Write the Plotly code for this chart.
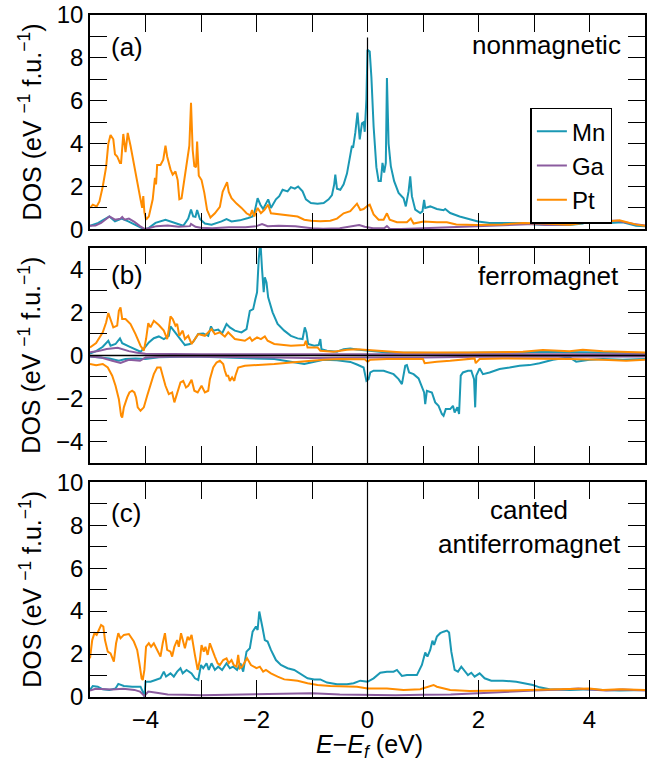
import plotly.graph_objects as go

# ---------------- data: (E - Ef [eV], DOS) ----------------
# Panel (a) nonmagnetic
A_MN = [(-5.0,0.17),(-4.85,0.3),(-4.75,0.45),(-4.65,0.6),(-4.55,0.37),(-4.43,0.5),(-4.31,0.37),(-4.13,0.15),(-4.02,0.0),(-3.95,0.05),(-3.82,0.3),(-3.64,0.45),(-3.49,0.33),(-3.32,0.17),(-3.23,0.5),(-3.18,0.92),(-3.14,0.6),(-3.1,0.58),(-3.07,0.9),(-3.02,0.48),(-2.93,0.27),(-2.81,0.22),(-2.63,0.37),(-2.54,0.48),(-2.45,0.37),(-2.3,0.42),(-2.15,0.53),(-2.07,0.6),(-2.04,0.75),(-1.98,1.45),(-1.93,1.15),(-1.88,0.95),(-1.83,1.2),(-1.79,1.4),(-1.74,1.0),(-1.65,1.4),(-1.59,1.55),(-1.53,1.85),(-1.44,1.77),(-1.38,1.97),(-1.31,1.9),(-1.25,2.0),(-1.17,1.77),(-1.11,1.4),(-1.02,1.23),(-0.9,1.2),(-0.79,1.23),(-0.7,1.4),(-0.64,1.6),(-0.6,2.1),(-0.58,2.55),(-0.55,1.9),(-0.49,1.85),(-0.43,2.1),(-0.37,2.6),(-0.31,3.4),(-0.28,3.9),(-0.26,3.8),(-0.22,4.5),(-0.18,5.45),(-0.14,4.2),(-0.1,4.95),(-0.07,5.0),(-0.05,4.55),(-0.02,6.05),(0.0,8.38),(0.04,8.3),(0.07,7.1),(0.11,4.8),(0.16,2.9),(0.2,2.25),(0.24,2.25),(0.27,3.1),(0.3,2.65),(0.33,3.1),(0.35,7.06),(0.38,4.0),(0.42,2.95),(0.48,2.25),(0.56,1.7),(0.65,1.45),(0.69,1.07),(0.74,1.77),(0.77,2.47),(0.8,1.55),(0.86,0.92),(0.95,0.76),(0.99,0.84),(1.02,1.38),(1.04,1.0),(1.13,1.07),(1.25,0.95),(1.37,0.89),(1.4,0.95),(1.49,0.76),(1.66,0.6),(1.84,0.48),(1.99,0.37),(2.2,0.3),(2.44,0.3),(2.56,0.33),(2.8,0.3),(3.04,0.23),(3.34,0.2),(3.64,0.2),(3.88,0.27),(4.0,0.45),(4.12,0.37),(4.36,0.3),(4.6,0.33),(4.84,0.17),(5.0,0.14)]
A_GA = [(-5.0,0.17),(-4.9,0.18),(-4.8,0.3),(-4.65,0.6),(-4.55,0.45),(-4.45,0.5),(-4.42,0.58),(-4.38,0.45),(-4.3,0.5),(-4.2,0.35),(-4.1,0.15),(-4.02,0.02),(-3.95,0.05),(-3.8,0.15),(-3.6,0.18),(-3.4,0.12),(-3.2,0.15),(-3.18,0.25),(-3.1,0.12),(-3.0,0.08),(-2.8,0.05),(-2.5,0.1),(-2.2,0.1),(-2.0,0.15),(-1.9,0.25),(-1.8,0.15),(-1.6,0.17),(-1.3,0.15),(-1.0,0.05),(-0.8,0.03),(-0.5,0.05),(-0.3,0.15),(-0.15,0.2),(-0.05,0.12),(0.0,0.1),(0.1,0.05),(0.3,0.05),(0.35,0.15),(0.4,0.03),(0.6,0.02),(1.0,0.05),(1.5,0.1),(2.0,0.12),(2.5,0.2),(3.0,0.25),(3.2,0.2),(3.6,0.22),(3.9,0.35),(4.0,0.5),(4.1,0.4),(4.5,0.4),(4.8,0.25),(5.0,0.18)]
A_PT = [(-5.0,1.0),(-4.95,1.15),(-4.88,1.07),(-4.83,1.3),(-4.77,2.0),(-4.71,2.9),(-4.67,4.0),(-4.63,4.4),(-4.58,4.2),(-4.55,3.5),(-4.51,3.4),(-4.46,3.1),(-4.44,3.1),(-4.42,4.0),(-4.4,4.45),(-4.36,3.6),(-4.32,4.5),(-4.27,3.9),(-4.21,3.0),(-4.15,2.3),(-4.09,1.4),(-4.06,1.0),(-4.04,1.55),(-4.02,0.8),(-3.99,0.45),(-3.94,0.6),(-3.87,1.4),(-3.83,2.4),(-3.81,2.1),(-3.79,3.0),(-3.73,3.0),(-3.68,3.25),(-3.64,3.9),(-3.61,3.4),(-3.55,2.8),(-3.51,2.55),(-3.46,2.7),(-3.42,2.3),(-3.39,1.4),(-3.35,1.45),(-3.3,2.3),(-3.26,3.1),(-3.21,3.9),(-3.18,5.9),(-3.15,3.7),(-3.12,2.95),(-3.09,2.9),(-3.07,4.1),(-3.04,2.5),(-2.99,2.3),(-2.94,1.7),(-2.89,0.9),(-2.83,0.55),(-2.75,0.75),(-2.66,1.05),(-2.61,1.75),(-2.57,2.0),(-2.53,2.2),(-2.5,1.75),(-2.45,1.45),(-2.36,1.2),(-2.27,1.0),(-2.18,0.75),(-2.11,0.65),(-2.08,0.9),(-2.04,0.6),(-1.98,1.0),(-1.92,0.75),(-1.86,0.9),(-1.79,1.15),(-1.74,0.75),(-1.62,0.72),(-1.5,0.68),(-1.38,0.65),(-1.26,0.6),(-1.14,0.45),(-1.02,0.4),(-0.85,0.38),(-0.67,0.4),(-0.55,0.5),(-0.43,0.75),(-0.31,0.85),(-0.19,1.2),(-0.13,0.9),(-0.07,0.95),(0.0,1.1),(0.04,1.15),(0.11,0.7),(0.2,0.45),(0.29,0.45),(0.35,0.75),(0.4,0.45),(0.53,0.33),(0.71,0.33),(0.78,0.5),(0.83,0.27),(1.01,0.37),(1.25,0.33),(1.43,0.33),(1.6,0.23),(1.96,0.2),(2.44,0.23),(2.8,0.3),(3.16,0.27),(3.64,0.22),(3.88,0.3),(4.03,0.42),(4.18,0.33),(4.54,0.42),(4.84,0.22),(5.0,0.17)]

# Panel (b) ferromagnet: spin up (positive) and spin down (negative)
B_MN_UP = [(-5.0,0.08),(-4.89,0.2),(-4.77,0.4),(-4.67,0.68),(-4.63,0.45),(-4.54,0.53),(-4.46,0.79),(-4.42,0.57),(-4.3,0.42),(-4.18,0.29),(-4.09,0.17),(-4.01,0.37),(-3.94,0.6),(-3.85,0.8),(-3.76,0.88),(-3.67,0.76),(-3.58,0.91),(-3.55,1.35),(-3.49,1.15),(-3.37,0.76),(-3.29,0.48),(-3.2,0.53),(-3.14,0.63),(-3.05,1.0),(-2.96,1.02),(-2.87,0.91),(-2.82,1.35),(-2.78,1.15),(-2.69,1.2),(-2.62,1.02),(-2.54,1.46),(-2.48,1.3),(-2.39,1.15),(-2.27,1.07),(-2.18,1.22),(-2.12,2.07),(-2.06,2.15),(-2.02,2.62),(-1.99,2.93),(-1.96,4.47),(-1.93,5.3),(-1.9,4.0),(-1.87,2.93),(-1.85,3.62),(-1.82,3.39),(-1.79,2.7),(-1.71,2.0),(-1.62,1.46),(-1.5,1.15),(-1.38,0.91),(-1.26,0.79),(-1.17,0.76),(-1.13,1.3),(-1.1,1.07),(-1.07,0.53),(-0.96,0.45),(-0.88,0.48),(-0.85,0.76),(-0.83,0.29),(-0.73,0.22),(-0.55,0.17),(-0.43,0.29),(-0.31,0.32),(-0.19,0.28),(0.0,0.22),(0.35,0.14),(1.25,0.11),(2.44,0.11),(2.8,0.14),(3.04,0.17),(3.64,0.17),(4.24,0.14),(5.0,0.11)]
B_MN_DN = [(-5.0,-0.05),(-4.65,-0.14),(-4.48,-0.25),(-4.36,-0.17),(-4.18,-0.14),(-4.0,-0.17),(-3.76,-0.09),(-3.17,-0.05),(-2.69,-0.09),(-2.21,-0.14),(-1.68,-0.17),(-1.14,-0.4),(-1.02,-0.33),(-0.79,-0.2),(-0.55,-0.22),(-0.31,-0.3),(-0.19,-0.42),(-0.07,-0.56),(-0.02,-1.18),(0.02,-1.1),(0.05,-0.79),(0.11,-0.71),(0.29,-0.71),(0.47,-0.87),(0.56,-1.1),(0.62,-1.33),(0.68,-0.48),(0.71,-0.45),(0.75,-0.79),(0.83,-0.87),(0.92,-1.07),(0.99,-1.49),(1.02,-1.72),(1.04,-2.26),(1.07,-1.64),(1.16,-1.72),(1.22,-2.18),(1.28,-2.34),(1.34,-2.72),(1.37,-2.8),(1.41,-2.49),(1.49,-2.49),(1.54,-2.34),(1.57,-2.65),(1.62,-2.41),(1.65,-2.72),(1.68,-0.94),(1.72,-0.79),(1.81,-0.71),(1.87,-0.71),(1.92,-1.1),(1.94,-2.41),(1.96,-0.94),(2.02,-0.6),(2.08,-0.87),(2.2,-0.79),(2.38,-0.63),(2.56,-0.56),(2.74,-0.48),(2.92,-0.45),(3.1,-0.36),(3.34,-0.2),(3.64,-0.09),(3.76,-0.29),(4.0,-0.2),(4.24,-0.17),(4.6,-0.2),(5.0,-0.17)]
B_GA_UP = [(-5.0,0.15),(-4.85,0.2),(-4.7,0.3),(-4.5,0.35),(-4.3,0.2),(-4.15,0.12),(-4.0,0.08),(-3.5,0.06),(-3.0,0.05),(-2.0,0.06),(-1.0,0.05),(0.0,0.06),(1.0,0.04),(2.0,0.05),(3.0,0.06),(4.0,0.06),(5.0,0.05)]
B_GA_DN = [(-5.0,-0.05),(-4.8,-0.1),(-4.6,-0.25),(-4.45,-0.35),(-4.3,-0.2),(-4.1,-0.25),(-4.0,-0.1),(-3.5,-0.05),(-2.0,-0.08),(-1.0,-0.12),(0.0,-0.1),(1.0,-0.1),(2.0,-0.06),(3.0,-0.05),(4.0,-0.05),(5.0,-0.05)]
B_PT_UP = [(-5.0,0.37),(-4.89,0.57),(-4.77,1.07),(-4.71,1.53),(-4.67,1.97),(-4.63,1.69),(-4.58,1.3),(-4.51,1.38),(-4.48,2.07),(-4.45,2.23),(-4.42,1.69),(-4.36,1.69),(-4.27,1.46),(-4.18,0.99),(-4.09,0.45),(-4.03,0.22),(-3.99,0.76),(-3.95,1.5),(-3.91,1.3),(-3.85,1.61),(-3.76,1.41),(-3.67,1.15),(-3.61,0.76),(-3.58,1.22),(-3.55,1.81),(-3.51,1.69),(-3.46,1.38),(-3.43,1.46),(-3.39,0.91),(-3.33,1.15),(-3.29,0.76),(-3.23,0.91),(-3.17,0.53),(-3.11,0.76),(-3.05,0.99),(-2.93,0.91),(-2.81,1.22),(-2.75,0.99),(-2.66,1.07),(-2.57,0.87),(-2.51,1.07),(-2.39,0.76),(-2.21,0.68),(-2.12,0.84),(-2.08,0.68),(-1.99,0.84),(-1.92,0.76),(-1.85,0.88),(-1.8,0.68),(-1.68,0.53),(-1.38,0.45),(-1.14,0.48),(-1.11,0.68),(-1.08,0.37),(-0.9,0.37),(-0.85,0.22),(-0.61,0.17),(-0.37,0.26),(-0.19,0.29),(0.0,0.25),(0.65,0.14),(1.84,0.14),(2.8,0.17),(3.16,0.25),(3.64,0.19),(3.88,0.26),(4.24,0.19),(5.0,0.14)]
B_PT_DN = [(-5.0,-0.4),(-4.89,-0.45),(-4.77,-0.4),(-4.68,-0.56),(-4.6,-0.94),(-4.54,-1.41),(-4.48,-2.03),(-4.44,-2.8),(-4.42,-2.88),(-4.39,-2.41),(-4.33,-1.95),(-4.29,-1.72),(-4.24,-1.64),(-4.2,-1.72),(-4.17,-1.95),(-4.14,-2.41),(-4.09,-2.57),(-4.03,-2.41),(-3.97,-1.87),(-3.91,-1.41),(-3.85,-0.87),(-3.79,-0.56),(-3.73,-0.56),(-3.69,-0.94),(-3.64,-1.41),(-3.58,-1.8),(-3.52,-1.72),(-3.48,-2.18),(-3.43,-1.72),(-3.37,-1.25),(-3.32,-1.18),(-3.27,-1.49),(-3.23,-1.41),(-3.17,-1.13),(-3.12,-1.64),(-3.06,-1.72),(-2.99,-1.41),(-2.93,-1.72),(-2.87,-1.64),(-2.84,-1.1),(-2.78,-0.56),(-2.72,-0.33),(-2.66,-0.25),(-2.6,-0.4),(-2.57,-0.71),(-2.54,-0.94),(-2.51,-0.94),(-2.48,-1.18),(-2.44,-1.02),(-2.4,-1.18),(-2.38,-0.94),(-2.33,-0.56),(-2.21,-0.48),(-1.98,-0.45),(-1.68,-0.4),(-1.38,-0.33),(-1.08,-0.25),(-0.79,-0.2),(-0.49,-0.17),(-0.19,-0.2),(-0.05,-0.18),(0.0,-0.29),(0.05,-0.2),(0.35,-0.17),(1.0,-0.17),(1.03,-0.36),(1.25,-0.29),(1.49,-0.25),(1.93,-0.14),(1.95,-0.36),(2.02,-0.17),(2.44,-0.14),(3.04,-0.14),(3.64,-0.17),(4.24,-0.2),(4.66,-0.25),(5.0,-0.2)]

# Panel (c) canted antiferromagnet
C_MN = [(-5.0,0.33),(-4.95,0.51),(-4.86,0.48),(-4.77,0.36),(-4.65,0.33),(-4.54,0.4),(-4.49,0.61),(-4.39,0.51),(-4.24,0.48),(-4.09,0.48),(-4.05,0.25),(-4.02,0.02),(-4.0,0.71),(-3.91,0.71),(-3.82,0.79),(-3.73,0.87),(-3.67,1.18),(-3.63,0.95),(-3.55,1.1),(-3.49,0.95),(-3.43,1.18),(-3.37,1.34),(-3.33,1.1),(-3.26,1.26),(-3.17,1.1),(-3.11,0.87),(-3.05,0.79),(-3.0,1.49),(-2.96,1.34),(-2.9,1.57),(-2.86,1.26),(-2.81,1.57),(-2.75,1.26),(-2.69,1.41),(-2.62,1.26),(-2.54,1.57),(-2.48,1.34),(-2.42,1.41),(-2.35,1.26),(-2.29,1.57),(-2.24,1.18),(-2.18,2.11),(-2.12,2.27),(-2.07,3.04),(-2.01,3.28),(-1.98,3.12),(-1.95,3.98),(-1.92,3.66),(-1.89,3.2),(-1.85,2.65),(-1.8,2.58),(-1.74,2.19),(-1.65,1.72),(-1.56,1.49),(-1.44,1.34),(-1.32,1.26),(-1.2,1.07),(-1.08,0.87),(-0.96,0.82),(-0.85,0.82),(-0.73,0.67),(-0.55,0.59),(-0.37,0.59),(-0.25,0.64),(-0.13,0.76),(0.0,0.71),(0.11,0.87),(0.23,1.13),(0.35,1.18),(0.47,1.18),(0.53,1.26),(0.62,0.98),(0.71,1.02),(0.89,1.02),(0.98,1.49),(1.04,2.07),(1.08,1.88),(1.13,2.19),(1.17,2.62),(1.2,2.42),(1.25,2.81),(1.31,2.97),(1.37,3.04),(1.43,3.09),(1.47,3.0),(1.51,2.11),(1.57,1.26),(1.63,1.18),(1.69,1.41),(1.75,1.23),(1.81,1.02),(1.87,1.13),(1.93,0.95),(2.02,1.1),(2.11,0.87),(2.23,0.76),(2.44,0.76),(2.68,0.71),(2.86,0.61),(2.98,0.56),(3.1,0.45),(3.28,0.36),(3.64,0.33),(4.0,0.36),(4.24,0.33),(4.54,0.3),(5.0,0.33)]
C_GA = [(-5.0,0.3),(-4.9,0.38),(-4.6,0.35),(-4.4,0.38),(-4.2,0.33),(-4.1,0.25),(-4.02,0.05),(-3.95,0.25),(-3.8,0.2),(-3.6,0.12),(-3.3,0.1),(-3.0,0.08),(-2.5,0.1),(-2.0,0.12),(-1.5,0.15),(-1.0,0.18),(-0.5,0.12),(0.0,0.1),(0.5,0.08),(1.0,0.1),(1.5,0.12),(2.0,0.18),(2.5,0.25),(3.0,0.3),(3.5,0.35),(3.8,0.4),(4.0,0.35),(4.3,0.3),(4.6,0.35),(5.0,0.3)]
C_PT = [(-5.0,1.8),(-4.96,2.65),(-4.92,2.97),(-4.88,2.89),(-4.84,3.12),(-4.8,3.35),(-4.76,3.28),(-4.73,2.65),(-4.68,2.11),(-4.63,2.03),(-4.57,1.65),(-4.53,2.5),(-4.49,2.97),(-4.45,2.73),(-4.39,2.89),(-4.3,2.93),(-4.21,2.58),(-4.15,2.19),(-4.11,1.57),(-4.07,0.87),(-4.05,0.79),(-4.02,1.26),(-3.99,2.34),(-3.94,2.5),(-3.9,2.34),(-3.85,2.5),(-3.79,2.19),(-3.73,1.88),(-3.69,2.5),(-3.65,2.97),(-3.61,2.19),(-3.55,2.11),(-3.52,1.88),(-3.48,2.34),(-3.43,2.65),(-3.4,2.34),(-3.36,2.97),(-3.33,2.65),(-3.29,2.27),(-3.24,2.81),(-3.21,2.65),(-3.17,2.89),(-3.14,2.5),(-3.11,1.96),(-3.06,1.26),(-3.02,1.72),(-2.99,2.42),(-2.95,2.11),(-2.92,2.34),(-2.88,1.96),(-2.84,2.5),(-2.8,2.19),(-2.75,1.88),(-2.7,1.57),(-2.66,1.49),(-2.6,1.72),(-2.54,1.8),(-2.5,1.57),(-2.45,1.72),(-2.41,1.49),(-2.36,1.41),(-2.33,1.96),(-2.3,1.34),(-2.26,1.41),(-2.21,1.65),(-2.17,1.8),(-2.1,1.49),(-2.0,1.34),(-1.94,1.41),(-1.88,1.18),(-1.83,1.26),(-1.74,1.1),(-1.62,0.95),(-1.5,0.82),(-1.38,0.79),(-1.26,0.76),(-1.08,0.64),(-0.9,0.56),(-0.67,0.51),(-0.43,0.51),(-0.19,0.48),(0.0,0.4),(0.35,0.4),(0.65,0.33),(0.95,0.36),(1.19,0.56),(1.25,0.48),(1.49,0.33),(1.84,0.28),(2.44,0.3),(3.04,0.33),(3.64,0.36),(3.76,0.4),(4.0,0.4),(4.24,0.33),(4.54,0.36),(5.0,0.33)]

SPECIES = ["Mn", "Ga", "Pt"]
X_TICKS = [-4, -3, -2, -1, 0, 1, 2, 3, 4]
X_LABELS = ["\u22124", "", "\u22122", "", "0", "", "2", "", "4"]
Y_TICKS_AC = list(range(0, 11))
Y_LABELS_AC = ["0", "", "2", "", "4", "", "6", "", "8", "", "10"]
Y_TICKS_B = list(range(-5, 6))
Y_LABELS_B = ["", "\u22124", "", "\u22122", "", "0", "", "2", "", "4", ""]

# ---------------- style ----------------
COLORS = {"Mn": "#1a98b4", "Ga": "#8b5c9f", "Pt": "#ff8c00"}
FONT = "Liberation Sans, Arial, Helvetica, sans-serif"
LW = 2

fig = go.Figure()

def add(curve, name, xa, ya, showlegend=False):
    fig.add_trace(go.Scatter(
        x=[p[0] for p in curve], y=[p[1] for p in curve], mode="lines",
        line=dict(color=COLORS[name], width=LW), name=name, legendgroup=name,
        showlegend=showlegend, xaxis=xa, yaxis=ya, hoverinfo="skip"))

for name, curve in zip(SPECIES, [A_MN, A_GA, A_PT]):
    add(curve, name, "x", "y", True)
for name, up, dn in zip(SPECIES, [B_MN_UP, B_GA_UP, B_PT_UP], [B_MN_DN, B_GA_DN, B_PT_DN]):
    add(up, name, "x2", "y2")
    add(dn, name, "x2", "y2")
for name, curve in zip(SPECIES, [C_MN, C_GA, C_PT]):
    add(curve, name, "x3", "y3")

common = dict(showline=True, linecolor="black", linewidth=1.5, mirror="ticks",
              ticks="inside", ticklen=17, tickwidth=1.3, tickcolor="black",
              showgrid=False, zeroline=False,
              tickfont=dict(family=FONT, size=24, color="black"))

xcommon = dict(common, range=[-5, 5], tickmode="array", tickvals=X_TICKS, ticktext=X_LABELS)
fig.update_layout(
    xaxis=dict(xcommon, anchor="y", showticklabels=False),
    xaxis2=dict(xcommon, anchor="y2", matches="x", showticklabels=False),
    xaxis3=dict(xcommon, anchor="y3", matches="x"),
    yaxis=dict(common, domain=[0.6857, 1.0], range=[0, 10], tickmode="array",
               tickvals=Y_TICKS_AC, ticktext=Y_LABELS_AC, anchor="x"),
    yaxis2=dict(common, domain=[0.3429, 0.6588], range=[-5, 5], tickmode="array",
                tickvals=Y_TICKS_B, ticktext=Y_LABELS_B, anchor="x2"),
    yaxis3=dict(common, domain=[0.0, 0.3150], range=[0, 10], tickmode="array",
                tickvals=Y_TICKS_AC, ticktext=Y_LABELS_AC, anchor="x3"),
)

# reference lines
fig.add_shape(type="line", xref="x", yref="y", x0=0, x1=0, y0=0, y1=8.95,
              line=dict(color="black", width=1.2))
fig.add_shape(type="line", xref="x2", yref="y2", x0=0, x1=0, y0=-5, y1=5,
              line=dict(color="black", width=1.2))
fig.add_shape(type="line", xref="x2", yref="y2", x0=-5, x1=5, y0=0, y1=0,
              line=dict(color="black", width=1.5))
fig.add_shape(type="line", xref="x3", yref="y3", x0=0, x1=0, y0=0, y1=10,
              line=dict(color="black", width=1.2))

ann_font = dict(family=FONT, size=26, color="black")
ylabel = "DOS (eV <sup>\u22121</sup> f.u.<sup>\u22121</sup>)"
annotations = [
    dict(text="(a)", x=-4.65, y=8.5, xref="x", yref="y", xanchor="left", yanchor="middle", showarrow=False, font=ann_font),
    dict(text="nonmagnetic", x=4.6, y=8.58, xref="x", yref="y", xanchor="right", yanchor="middle", showarrow=False, font=ann_font),
    dict(text="(b)", x=-4.65, y=3.74, xref="x2", yref="y2", xanchor="left", yanchor="middle", showarrow=False, font=ann_font),
    dict(text="ferromagnet", x=4.57, y=3.7, xref="x2", yref="y2", xanchor="right", yanchor="middle", showarrow=False, font=ann_font),
    dict(text="(c)", x=-4.65, y=8.57, xref="x3", yref="y3", xanchor="left", yanchor="middle", showarrow=False, font=ann_font),
    dict(text="canted<br>antiferromagnet", x=4.6, y=7.92, xref="x3", yref="y3", xanchor="right", yanchor="middle",
         align="center", showarrow=False, font=ann_font),
    dict(text="<i>E</i>\u2212<i>E</i><sub><i>f</i></sub> (eV)", x=0.5036, y=-0.0718, xref="paper", yref="paper",
         xanchor="center", yanchor="middle", showarrow=False, font=dict(family=FONT, size=25, color="black")),
]
for yc in [(0.6857 + 1.0) / 2, (0.3429 + 0.6588) / 2, 0.3150 / 2]:
    annotations.append(dict(text=ylabel, x=-0.1077, y=yc, xref="paper", yref="paper", textangle=-90,
                            xanchor="center", yanchor="middle", showarrow=False,
                            font=dict(family=FONT, size=25, color="black")))

fig.update_layout(
    width=648, height=765,
    margin=dict(l=90, r=1, t=15, b=68),
    paper_bgcolor="white", plot_bgcolor="white",
    annotations=annotations,
    legend=dict(x=0.7935, y=0.864, xanchor="left", yanchor="top",
                bordercolor="black", borderwidth=1.5, bgcolor="white",
                font=dict(family=FONT, size=24, color="black"), tracegroupgap=0),
    font=dict(family=FONT, color="black"),
)

fig.write_html("out.html")
